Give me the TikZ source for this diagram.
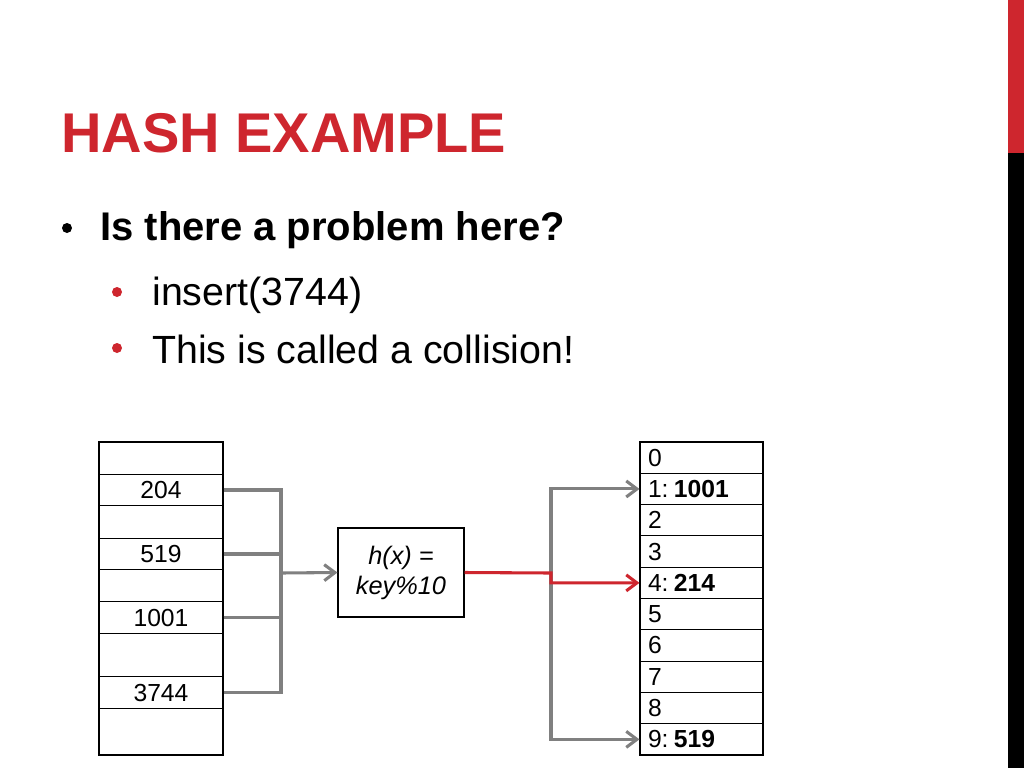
\documentclass[tikz,border=0pt]{standalone}
\usepackage{fontspec}
\setmainfont{Liberation Sans}
\usetikzlibrary{arrows.meta}
\definecolor{slidered}{RGB}{206,38,46}
\definecolor{linegray}{RGB}{128,128,128}

\begin{document}
\begin{tikzpicture}
[x=0.75pt,y=-0.75pt,
keycell/.style={draw=black,thick,fill=white,minimum width=93pt,minimum height=23.5pt,inner sep=0pt,font=\fontsize{18.5}{21}\selectfont},
slot/.style={draw=black,thick,fill=white,text width=80.25pt,inner xsep=6pt,inner ysep=0pt,minimum height=23.5pt,align=left,font=\fontsize{18.5}{21}\selectfont},
hashbox/.style={draw=black,thick,minimum width=94.5pt,minimum height=66.75pt,align=center,font=\fontsize{19}{22.5}\selectfont\itshape},
link/.style={draw=linegray,line width=2.3pt},
arr/.style={link,-{Straight Barb[length=8pt,width=12pt]}}]
\useasboundingbox (0,0) rectangle (1024,768);
\fill[white] (0,0) rectangle (1024,768);
%%%%% SIDE BAR
\fill[slidered] (1008,0) rectangle (1024,153);
\fill[black] (1008,153) rectangle (1024,768);
%%%%% TITLE AND BULLETS
\node[anchor=base west,inner sep=0pt,text=slidered,font=\fontsize{42}{49}\selectfont\bfseries] (title) at (61,152) {HASH EXAMPLE};
\fill[black] (67,228) circle (5);
\node[anchor=base west,inner sep=0pt,font=\fontsize{30}{36}\selectfont\bfseries] (question) at (100,240) {Is there a problem here?};
\fill[slidered] (117,292) circle (5);
\node[anchor=base west,inner sep=0pt,font=\fontsize{29.5}{36}\selectfont] (insert) at (152,305) {insert(3744)};
\fill[slidered] (117,348) circle (5);
\node[anchor=base west,inner sep=0pt,font=\fontsize{29.5}{36}\selectfont] (collision) at (152,363) {This is called a collision!};
%%%%% KEYS
\draw[thick] (99,442) rectangle (223,755);
\node[keycell] (k204) at (161,490) {204};
\node[keycell] (k519) at (161,554) {519};
\node[keycell] (k1001) at (161,617.5) {1001};
\node[keycell] (k3744) at (161,692.5) {3744};
%%%%% HASH FUNCTION
\node[hashbox] (hash) at (401,572.5) {h(x) =\\key\%10};
%%%%% TABLE
\foreach \lbl [count=\i from 0] in {0,1:\kern4pt\textbf{1001},2,3,4:\kern4pt\textbf{214},5,6,7,8,9:\kern4pt\textbf{519}}
{
	\node[slot] (slot\i) at (701.5,{457.65+31.3*\i}) {\lbl};
};
%%%%% LINKS
\coordinate (busL) at (281,573);
\coordinate (busR) at (551,573);
\foreach \k in {204,519,1001,3744}
{
	\path[link] (k\k.east) -| (busL);
};
\path[arr] (busL) -- (hash.west);
\path[arr] (busR) |- (slot1.west);
\path[arr] (busR) |- (slot9.west);
\path[arr,draw=slidered] (hash.east) -- (busR) |- (slot4.west);
\end{tikzpicture}
\end{document}
